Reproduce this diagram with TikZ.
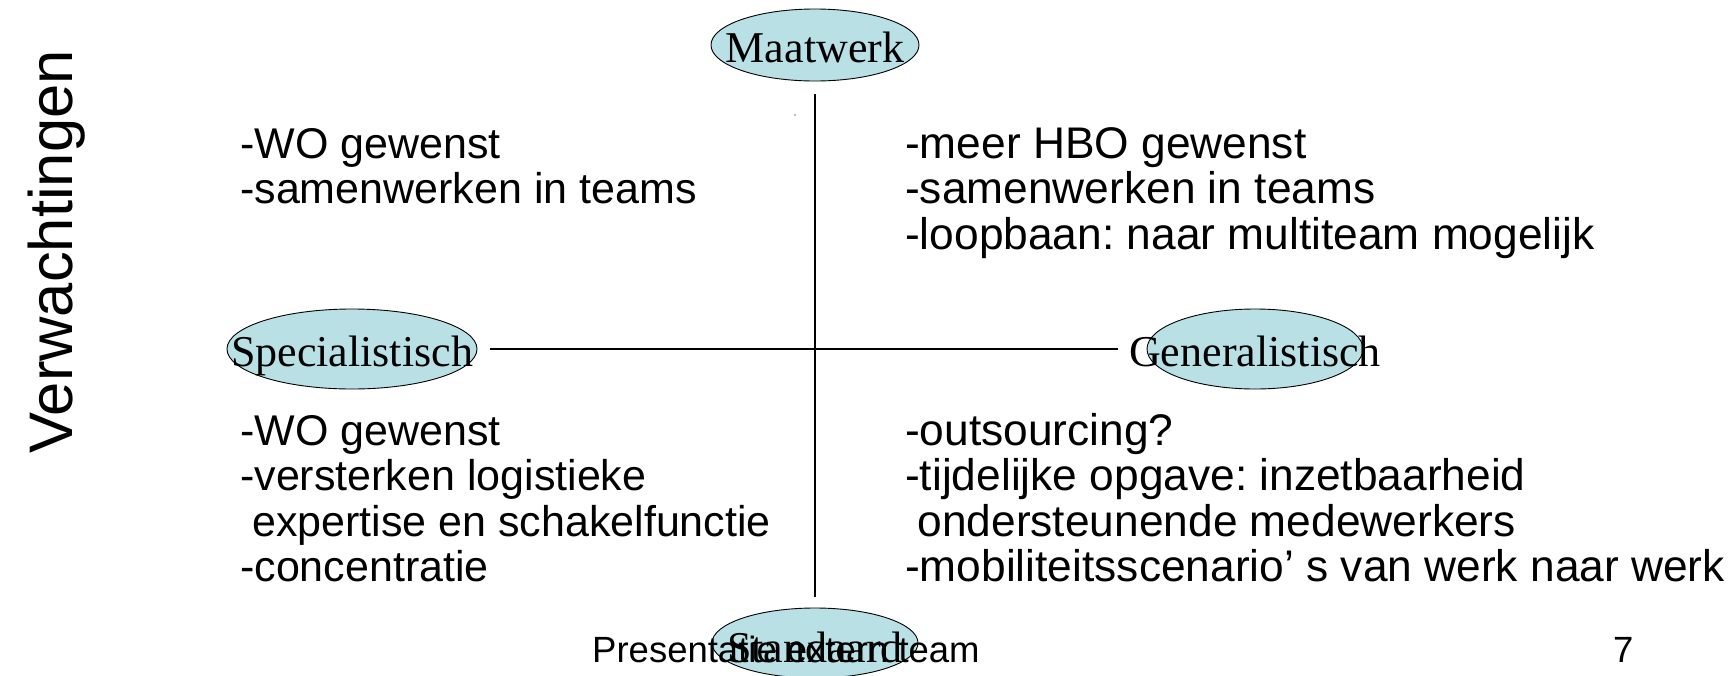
\documentclass[tikz,border=0pt]{standalone}
\usepackage{fontspec}
\setmainfont{Liberation Serif}
\newfontfamily\arialfont{Liberation Sans}
\usetikzlibrary{shapes.geometric}
\frenchspacing

\definecolor{ovalblue}{RGB}{185,224,228}

\tikzset{
  oval/.style={ellipse, draw=black, line width=0.9pt, fill=ovalblue, inner sep=0pt,
               text height=35pt, text depth=0pt,
               font=\fontsize{44}{50}\selectfont},
  bulletl/.style={anchor=base west, inner sep=0pt, font=\arialfont\fontsize{43}{50}\selectfont},
  bulletr/.style={anchor=base west, inner sep=0pt, font=\arialfont\fontsize{44.3}{50}\selectfont},
  footer/.style={anchor=base west, inner sep=0pt, font=\arialfont\fontsize{36.5}{42}\selectfont},
  axis/.style={line width=1.3pt, draw=black}
}

\begin{document}
\begin{tikzpicture}[x=1pt, y=-1pt]
  \useasboundingbox (0,0) rectangle (1730,675);

  % side title
  \node[rotate=90, anchor=base, inner sep=0pt,
        font=\arialfont\fontsize{61.5}{70}\selectfont] (title) at (72,252) {Verwachtingen};

  % the four poles
  \node[oval, minimum width=208pt, minimum height=72pt] (mw) at (815,45) {\makebox[0pt]{Maatwerk}};
  \node[oval, minimum width=250pt, minimum height=80pt] (sp) at (352,349) {\makebox[0pt]{Specialistisch}};
  \node[oval, minimum width=216pt, minimum height=80pt] (ge) at (1255,349) {\makebox[0pt]{Generalistisch}};
  \node[oval, minimum width=206pt, minimum height=70pt] (st) at (815,643) {\makebox[0pt]{\raisebox{-1.5pt}{Standaard}}};

  % axes
  \draw[axis, shorten <=13pt, shorten >=11pt] (mw) -- (st);
  \draw[axis, shorten <=13pt, shorten >=29pt] (sp) -- (ge);

  % stray mark
  \fill[gray] (795,115) circle (0.9pt);

  % quadrant texts
  \foreach \t [count=\i] in {{-WO gewenst},{-samenwerken in teams}}
    \node[bulletl, name=tl\i] at ({240},{158+(\i-1)*45.5}) {\t};
  \foreach \t [count=\i] in {{-meer HBO gewenst},{-samenwerken in teams},{-loopbaan: naar multiteam mogelijk}}
    \node[bulletr, name=tr\i] at ({905},{158+(\i-1)*45.5}) {\t};
  \foreach \t [count=\i] in {{-WO gewenst},{-versterken logistieke},{~expertise en schakelfunctie},{-concentratie}}
    \node[bulletl, name=bl\i] at ({240},{445+(\i-1)*45.5}) {\t};
  \foreach \t [count=\i] in {{-outsourcing?},{-tijdelijke opgave: inzetbaarheid},{~ondersteunende medewerkers},{-mobiliteitsscenario’ s van werk naar werk}}
    \node[bulletr, name=br\i] at ({905},{445+(\i-1)*45.5}) {\t};

  % footer
  \node[footer] (foot) at (592,662) {Presentatie extern team};
  \node[footer] (page) at (1613,662) {7};
\end{tikzpicture}
\end{document}
